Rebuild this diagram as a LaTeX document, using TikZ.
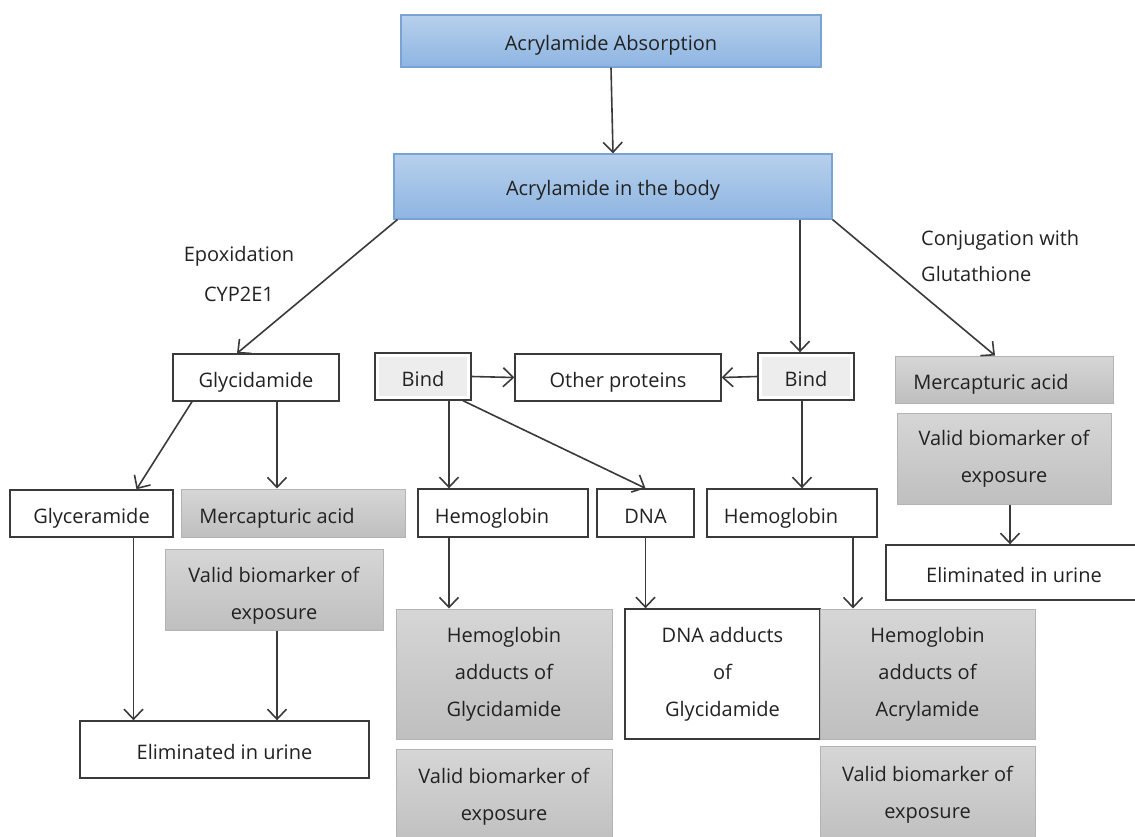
\documentclass[tikz,border=0pt]{standalone}
\usepackage{fontspec}
\setmainfont{Open Sans}
\usetikzlibrary{arrows.meta}
\definecolor{txt}{HTML}{222222}
\definecolor{ln}{HTML}{3A3A3A}
\definecolor{bluetop}{HTML}{B7D0EC}
\definecolor{bluebot}{HTML}{8EB5E2}
\definecolor{blueln}{HTML}{7AA2D3}
\definecolor{graytop}{HTML}{D6D6D6}
\definecolor{graybot}{HTML}{BFBFBF}
\definecolor{grayln}{HTML}{B3B3B3}
\tikzset{
  base/.style={font=\fontsize{20}{37}\selectfont, text=txt, align=center, inner sep=0pt},
  one/.style={text height=20pt, text depth=0pt},
  onebl/.style={text height=18pt, text depth=0pt},
  bluebox/.style={base, onebl, draw=blueln, line width=1.2pt, top color=bluetop, bottom color=bluebot},
  whitebox/.style={base, draw=ln, line width=1.4pt, fill=white},
  graybox/.style={base, draw=grayln, line width=1pt, top color=graytop, bottom color=graybot},
  bindbox/.style={whitebox, one, path picture={\fill[black!7] ([shift={(4pt,-4pt)}]path picture bounding box.north west) rectangle ([shift={(-4pt,4pt)}]path picture bounding box.south east);}},
  lbl/.style={base},
  arr/.style={draw=ln, line width=1.6pt, -{Straight Barb[length=10pt,width=19pt,line width=1.6pt]}},
  bx/.style 2 args={minimum width=#1pt, minimum height=#2pt}
}
\begin{document}
\begin{tikzpicture}[x=1pt,y=-1pt]
\useasboundingbox (0,0) rectangle (1135,836);
\clip (0,0) rectangle (1135,836);
% top
\node[bluebox, bx={420}{52}] (abs) at (611,41) {Acrylamide Absorption};
\node[bluebox, bx={438}{65}] (body) at (613,186.5) {Acrylamide in the body};
% labels
\node[lbl] (epox) at (239,256) {Epoxidation};
\node[lbl] (cyp) at (239,294) {CYP2E1};
\node[lbl, anchor=west] (conj) at (921,240) {Conjugation with};
\node[lbl, anchor=west] (glut) at (921,274) {Glutathione};
% row 1
\node[whitebox, one, bx={166}{47}] (gly) at (256,377.5) {Glycidamide};
\node[bindbox, bx={96}{47}] (bindL) at (423,376.5) {Bind};
\node[whitebox, one, bx={206}{47}] (other) at (618,377.5) {Other proteins};
\node[bindbox, bx={96}{47}] (bindR) at (806,376.5) {Bind};
\node[graybox, bx={218}{47}] (mercR) at (1004,379.5) {};
\node[lbl, one] (mercRt) at (991,379.5) {Mercapturic acid};
\node[graybox, bx={214}{91}] (validR) at (1004,458.5) {Valid biomarker of\\exposure};
\node[whitebox, one, bx={256}{55}] (elimR) at (1014,572.5) {Eliminated in urine};
% row 2
\node[whitebox, one, bx={163}{47}] (glyc) at (91.5,513.5) {Glyceramide};
\node[graybox, bx={224}{48}] (mercL) at (293,513) {};
\node[lbl, one] (mercLt) at (277,513) {Mercapturic acid};
\node[graybox, bx={218}{81}] (validL) at (274,589.5) {};
\node[lbl] (validLt) at (274,596) {Valid biomarker of\\exposure};
\node[whitebox, one, bx={289}{57}] (elimL) at (224.5,749.5) {Eliminated in urine};
\node[whitebox, bx={170}{48}] (hemo1) at (503,513) {};
\node[lbl, one] (hemo1t) at (492,513) {Hemoglobin};
\node[whitebox, one, bx={97}{48}] (dna) at (645.5,513) {DNA};
\node[whitebox, bx={170}{48}] (hemo2) at (792,513) {};
\node[lbl, one] (hemo2t) at (781,513) {Hemoglobin};
% row 3
\node[graybox, bx={216}{130}] (hbg) at (504,674) {Hemoglobin\\adducts of\\Glycidamide};
\node[whitebox, bx={195}{130}] (dnaadd) at (722.5,674) {DNA adducts\\of\\Glycidamide};
\node[graybox, bx={215}{130}] (hba) at (927.5,674) {Hemoglobin\\adducts of\\Acrylamide};
\node[graybox, bx={216}{96}] (validB1) at (504,797) {Valid biomarker of\\exposure};
\node[graybox, bx={215}{98}] (validB2) at (927.5,795) {Valid biomarker of\\exposure};
% arrows
\draw[arr] (abs.south) -- (body.north);
\draw[arr] (body.south west) ++(4,0) -- ([xshift=-19pt]gly.north);
\draw[arr] (body.south -| bindR.north) ++(-6,0) coordinate (bt) -- (bt |- bindR.north);
\draw[arr] (body.south east) -- ([xshift=-9pt]mercR.north);
\draw[arr] (bindL.east) -- (other.west);
\draw[arr] (bindR.west) -- (other.east);
\draw[arr] ([xshift=-64pt]gly.south) -- ([xshift=45pt]glyc.north);
\draw[arr] ([xshift=21pt]gly.south) -- ([xshift=21pt]gly.south |- mercL.north);
\draw[arr] ([xshift=26pt]bindL.south) -- ([xshift=26pt]bindL.south |- hemo1.north);
\draw[arr] ([xshift=40pt]bindL.south) -- (dna.north);
\draw[arr] ([xshift=-4pt]bindR.south) -- ([xshift=-4pt]bindR.south |- hemo2.north);
\draw[arr] ([xshift=6pt]validR.south) -- ([xshift=6pt]validR.south |- elimR.north);
\draw[arr] ([xshift=42pt]glyc.south) -- ([xshift=42pt]glyc.south |- elimL.north);
\draw[arr] ([xshift=3pt]validL.south) -- ([xshift=3pt]validL.south |- elimL.north);
\draw[arr] ([xshift=-54pt]hemo1.south) -- ([xshift=-54pt]hemo1.south |- hbg.north);
\draw[arr] (dna.south) -- (dna.south |- dnaadd.north);
\draw[arr] ([xshift=61pt]hemo2.south) -- ([xshift=61pt]hemo2.south |- hba.north);
\end{tikzpicture}
\end{document}
